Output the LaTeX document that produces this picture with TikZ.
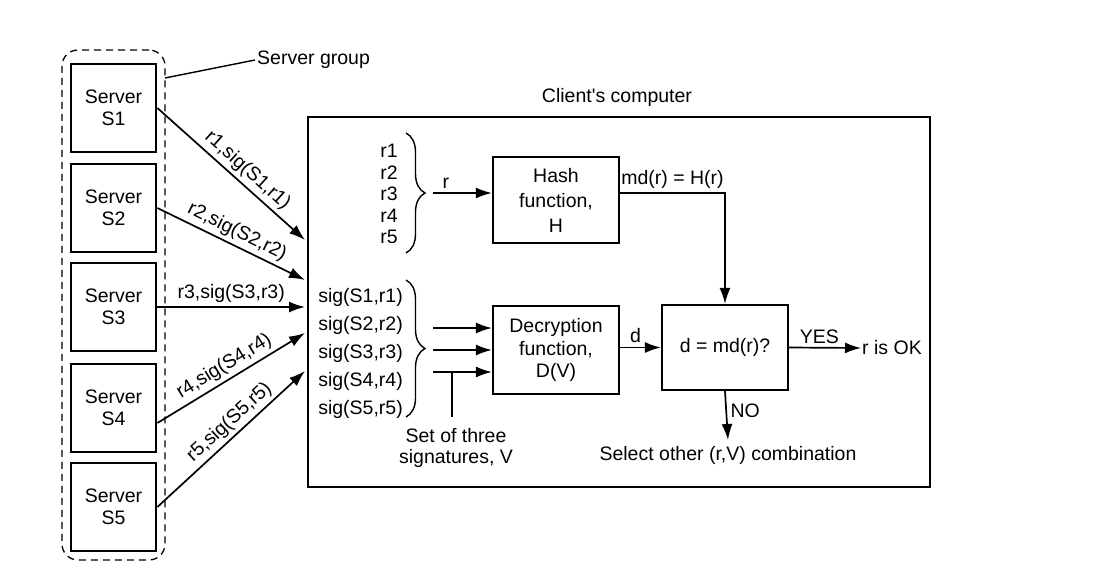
\documentclass[tikz,border=0pt]{standalone}
\usepackage{fontspec}
\setmainfont{Liberation Sans}[Ligatures=TeXOff]
\usetikzlibrary{arrows.meta,decorations.pathreplacing}
\begin{document}
\begin{tikzpicture}[x=1pt,y=-1pt,
  every node/.style={font=\fontsize{19.5}{22}\selectfont},
  srv/.style={draw, line width=2.8pt, minimum width=85pt, minimum height=88pt, align=center, inner sep=0pt},
  fbox/.style={draw, line width=2.2pt, minimum width=126pt, minimum height=86pt, align=center, inner sep=0pt},
  arr/.style={line width=1.7pt, -{Latex[length=16pt,width=11pt]}},
  plain/.style={line width=1.4pt},
  lbl/.style={inner sep=3.5pt},
  brc/.style={decorate, decoration={brace, amplitude=19pt}, line width=1.4pt}
]
\useasboundingbox (0,0) rectangle (1114,587);

% server group
\node[draw, dash pattern=on 7pt off 5pt, line width=1.3pt, rounded corners=16pt,
      minimum width=103pt, minimum height=510pt] (grp) at (113.5,305) {};
\node[srv] (s1) at (113.5,108) {Server\\S1};
\node[srv] (s2) at (113.5,208) {Server\\S2};
\node[srv] (s3) at (113.5,307) {Server\\S3};
\node[srv] (s4) at (113.5,408) {Server\\S4};
\node[srv] (s5) at (113.5,507) {Server\\S5};

\node[anchor=west, inner sep=2pt] (sgl) at (255,60) {Server group};
\coordinate (gpt) at (165,78);
\draw[plain] (gpt) -- (sgl.west);

% client box
\node[draw, line width=2.8pt, minimum width=622pt, minimum height=370pt] (client) at (619,302) {};
\node (cct) at (617,97) {Client's computer};

% arrows from servers
\coordinate (e1) at (305,240);
\coordinate (e2) at (305,280);
\coordinate (e3) at (305,307);
\coordinate (e4) at (305,333);
\coordinate (e5) at (305,371);
\draw[arr] (s1.east) -- node[sloped, above, lbl, pos=0.55] {r1,sig(S1,r1)} (e1);
\draw[arr] (s2.east) -- node[sloped, above, lbl] {r2,sig(S2,r2)} (e2);
\draw[arr] (s3.east) -- node[sloped, above, lbl] {r3,sig(S3,r3)} (e3);
\draw[arr] ([yshift=-15pt]s4.east) -- node[sloped, above, lbl] {r4,sig(S4,r4)} (e4);
\draw[arr] (s5.east) -- node[sloped, above, lbl, pos=0.55] {r5,sig(S5,r5)} (e5);

% r list
\node[anchor=east, align=right, inner sep=0pt, font=\fontsize{19.5}{21.5}\selectfont] (rlist) at (398,194) {r1\\r2\\r3\\r4\\r5};
\draw[brc] (406,133) -- (406,253);
\coordinate (rst) at (433,193);
\node[fbox] (hash) at (556,200) [font=\fontsize{19.5}{25}\selectfont] {Hash\\function,\\H};
\draw[arr] (rst) -- node[above, pos=0.22, lbl] {r} (rst -| hash.west);

% sig list
\node[anchor=east, align=right, inner sep=0pt, font=\fontsize{19.5}{28}\selectfont] (slist) at (403,353) {sig(S1,r1)\\sig(S2,r2)\\sig(S3,r3)\\sig(S4,r4)\\sig(S5,r5)};
\draw[brc] (406,280) -- (406,417);
\node[fbox, minimum height=88pt] (dec) at (556,350) [font=\fontsize{19.5}{22.5}\selectfont] {Decryption\\function,\\D(V)};
\coordinate (a1) at (433,328);
\coordinate (a2) at (433,350);
\coordinate (a3) at (433,372);
\draw[arr] (a1) -- (a1 -| dec.west);
\draw[arr] (a2) -- (a2 -| dec.west);
\draw[arr] (a3) -- (a3 -| dec.west);
\coordinate (v1) at (452,372);
\node[align=center, inner sep=0pt, font=\fontsize{19.5}{21}\selectfont] (setv) at (456,448) {Set of three\\signatures, V};
\draw[plain] (v1) -- (v1 |- 0,417);

% compare
\node[fbox, minimum height=85pt] (cmp) at (725,347.5) {d = md(r)?};
\draw[arr] (rst -| hash.east) -- node[above, lbl] {md(r) = H(r)} (rst -| cmp.north) -- (cmp.north);
\draw[arr] (dec.east |- cmp.west) -- node[above, pos=0.38, lbl] {d} (cmp.west);

\node[anchor=west, inner sep=1pt] (ok) at (861,348) {r is OK};
\draw[arr] (cmp.east) -- node[above, lbl, pos=0.42] {YES} (ok.west);

\node[inner sep=0pt, anchor=north] (sel) at (728,446) {Select other (r,V) combination};
\draw[arr] (cmp.south) -- node[right, pos=0.4, lbl] {NO} ([yshift=6pt]sel.north);
\end{tikzpicture}
\end{document}
